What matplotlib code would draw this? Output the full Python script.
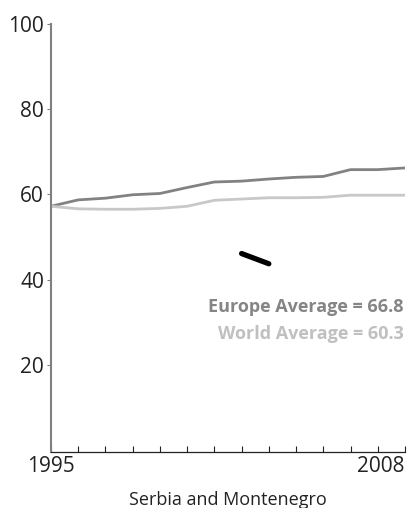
import matplotlib
matplotlib.use('Agg')
import matplotlib.pyplot as plt
import numpy as np

plt.rcParams['font.family'] = ['Open Sans', 'DejaVu Sans']

years = np.arange(1995, 2009)
europe = [57.2, 58.7, 59.1, 59.9, 60.2, 61.6, 62.9, 63.1, 63.6, 64.0, 64.2, 65.8, 65.8, 66.2]
world = [57.2, 56.6, 56.5, 56.5, 56.7, 57.2, 58.6, 58.9, 59.2, 59.2, 59.3, 59.8, 59.8, 59.8]
country_years = [2002, 2003]
country = [46.1, 43.7]

europe_avg = 66.8
world_avg = 60.3
country_name = 'Serbia and Montenegro'

fig = plt.figure(figsize=(4.07, 5.08), dpi=100)
ax = fig.add_axes([0.1253, 0.1102, 0.8697, 0.8426])

ax.plot(years, europe, color='#828282', lw=2.0, solid_joinstyle='round')
ax.plot(years, world, color='#c8c8c8', lw=2.0, solid_joinstyle='round')
ax.plot(country_years, country, color='black', lw=3.8, solid_capstyle='round')

ax.set_xlim(1995, 2008)
ax.set_ylim(-0.5, 100)

ax.set_xticks(years)
ax.set_xticklabels(['1995'] + [''] * 12 + ['2008'])
ax.get_xticklabels()[-1].set_horizontalalignment('right')
ax.set_yticks([20, 40, 60, 80, 100])

ax.tick_params(axis='x', direction='in', length=4, width=0.8, color='#222222',
               labelsize=15, pad=3, labelcolor='#222222')
ax.tick_params(axis='y', direction='out', length=3, width=0.8, color='#808080',
               labelsize=15, pad=2, labelcolor='#222222')

for s in ['top', 'right']:
    ax.spines[s].set_visible(False)
ax.spines['left'].set_color('#808080')
ax.spines['left'].set_linewidth(1.5)
ax.spines['bottom'].set_color('#222222')
ax.spines['bottom'].set_linewidth(0.9)

ax.set_xlabel(country_name, fontsize=13, color='#222222', labelpad=10)

ax.text(0.997, 0.338, f'Europe Average = {europe_avg}', transform=ax.transAxes,
        ha='right', va='center', fontsize=13, fontweight='bold', color='#858585')
ax.text(0.997, 0.275, f'World Average = {world_avg}', transform=ax.transAxes,
        ha='right', va='center', fontsize=13, fontweight='bold', color='#c0c0c0')

fig.savefig('out.png', dpi=100)
